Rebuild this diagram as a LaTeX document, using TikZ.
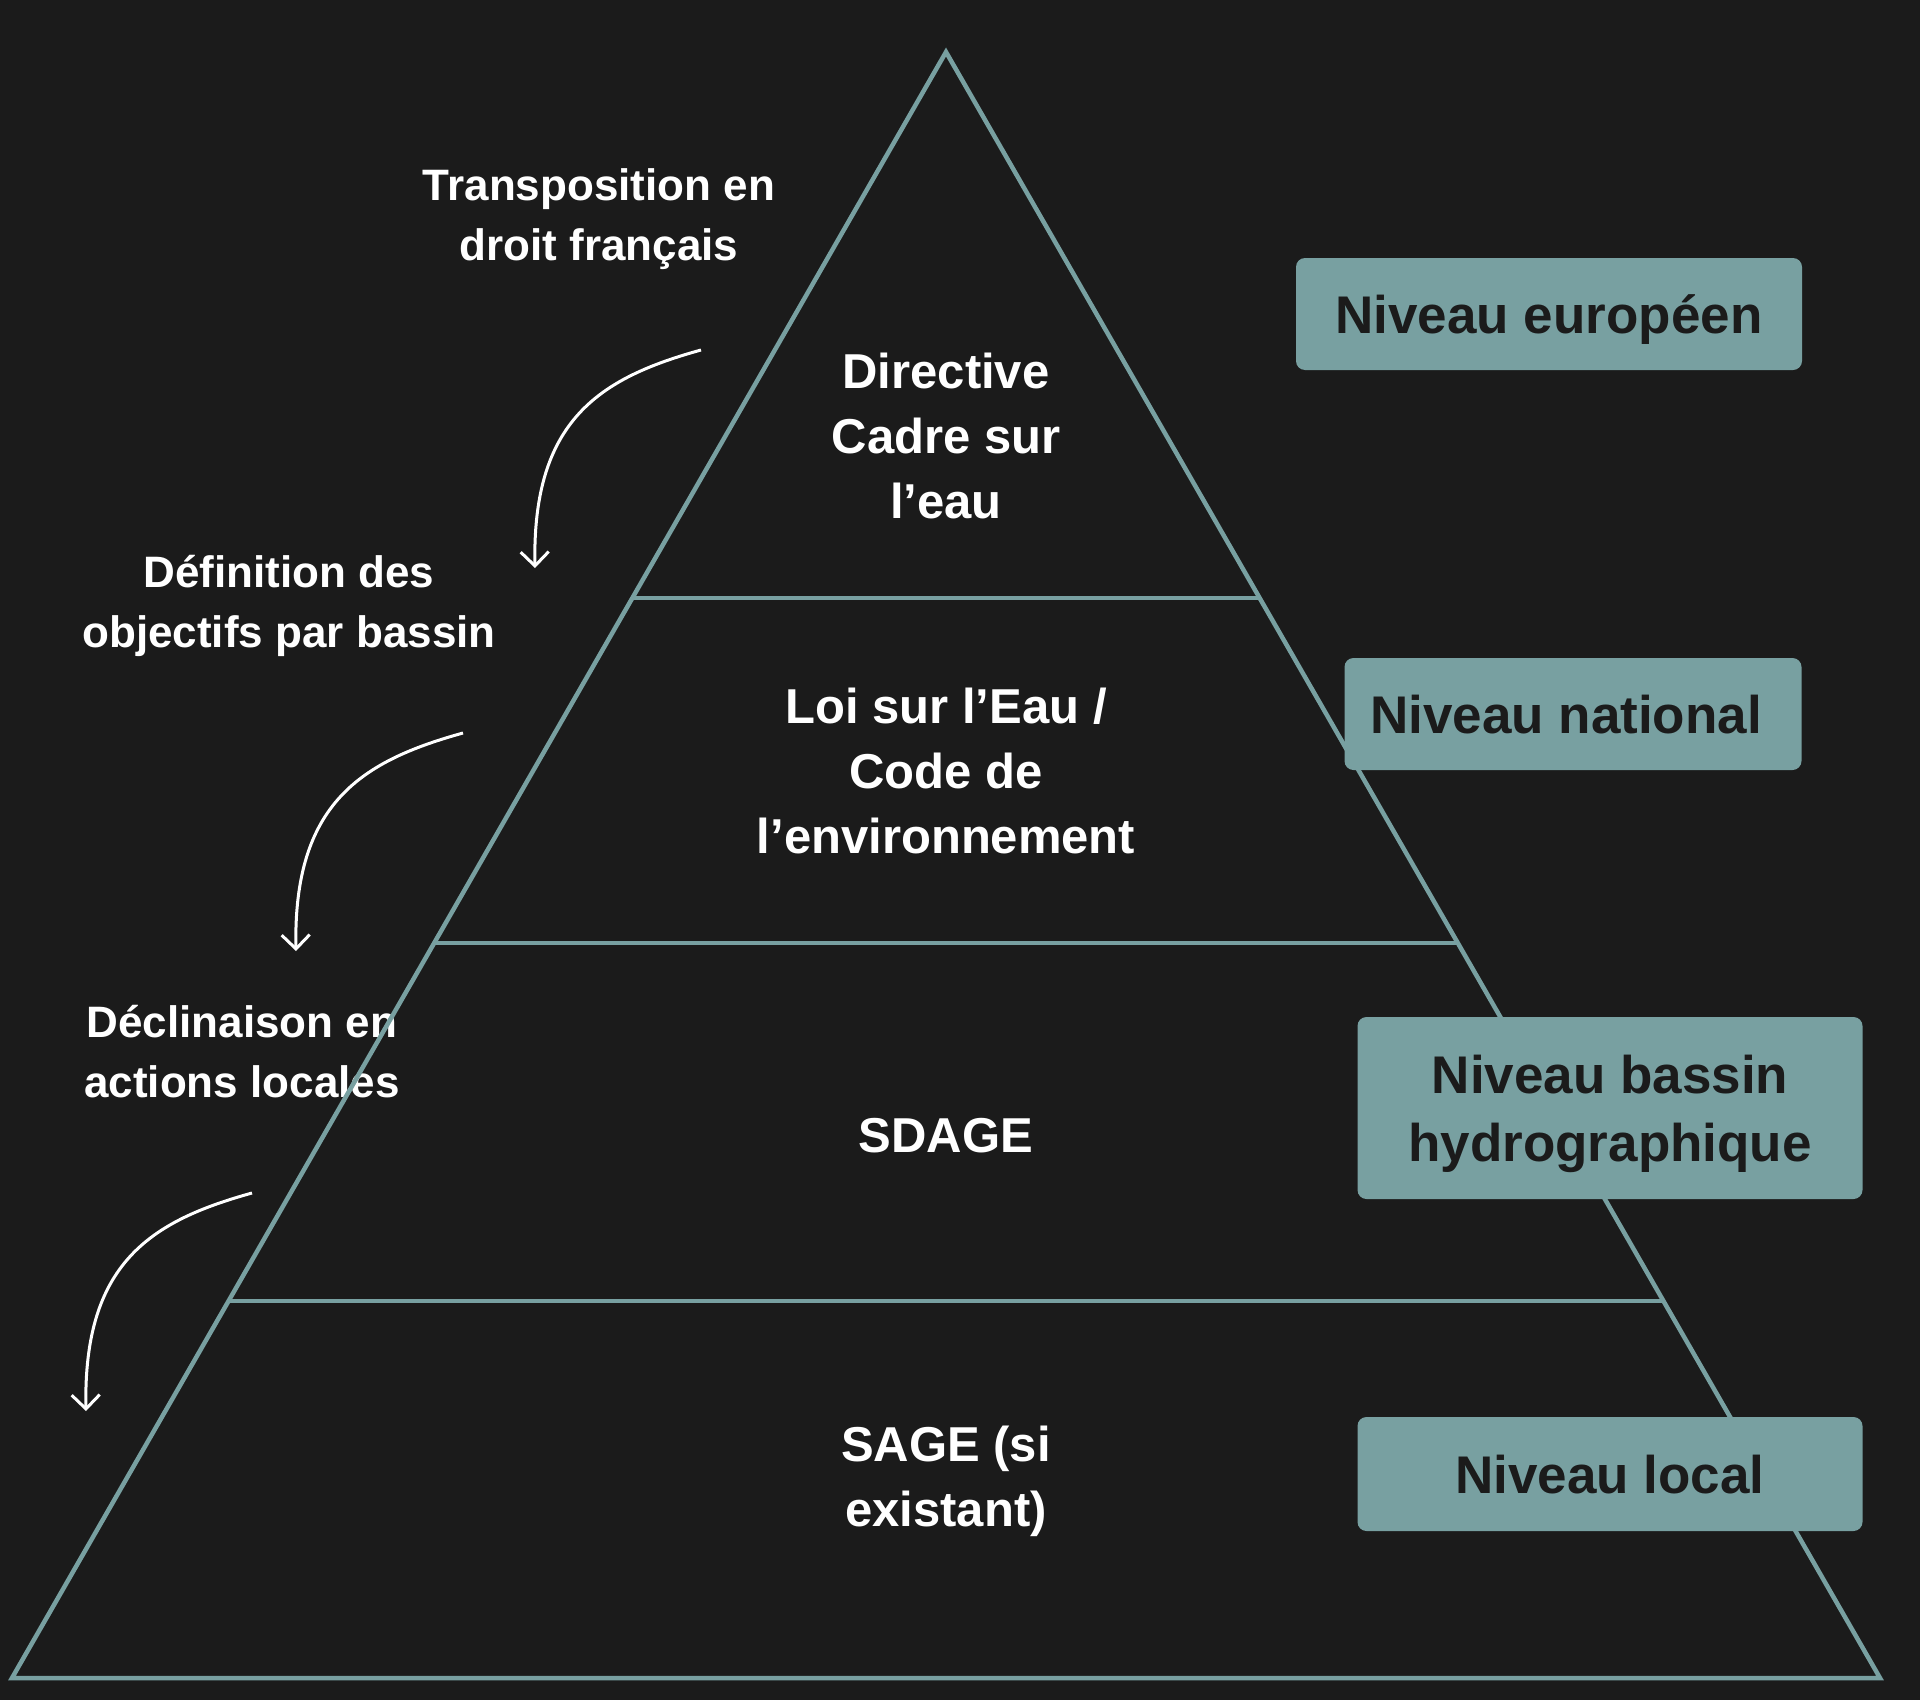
\documentclass[tikz,border=0pt]{standalone}
\usepackage{fontspec}
\setmainfont{Liberation Sans}
\usetikzlibrary{arrows.meta,calc}

\definecolor{fond}{RGB}{27,27,27}
\definecolor{sarcelle}{RGB}{120,160,161}

\begin{document}
\begin{tikzpicture}[x=1pt,y=-1pt,
    niveau/.style={fill=sarcelle, rounded corners=9pt, text=fond, inner sep=0pt, text depth=0pt,
        font=\fontsize{53}{68}\selectfont\bfseries, align=center},
    etage/.style={text=white, text depth=0pt, font=\fontsize{49}{65}\selectfont\bfseries, align=center},
    etape/.style={text=white, text depth=0pt, font=\fontsize{44}{60}\selectfont\bfseries, align=center},
    fleche/.style={white, line width=3pt, -{Straight Barb[length=14pt,width=28pt]}},
    bord/.style={sarcelle, line width=4.5pt}]
    % fond
    \fill [fond] (0,0) rectangle (1920,1700);
    \useasboundingbox (0,0) rectangle (1920,1700);

    % etapes a gauche
    \node [etape] (transpo) at (599,215) {Transposition en\\droit français};
    \node [etape] (defin) at (289,601) {Définition des\\objectifs par bassin};
    \node [etape] (declin) at (242,1051) {Déclinaison en\\actions locales};

    \coordinate (d1) at (701,350);
    \coordinate (a1) at (535,568);
    \coordinate (d2) at (463,733);
    \coordinate (a2) at (296,951);
    \coordinate (d3) at (252,1193);
    \coordinate (a3) at (86,1411);
    \draw [fleche] (d1) .. controls +(-101,28) and +(-3,-148) .. (a1);
    \draw [fleche] (d2) .. controls +(-101,28) and +(-3,-148) .. (a2);
    \draw [fleche] (d3) .. controls +(-101,28) and +(-3,-148) .. (a3);

    % pyramide
    \coordinate (sommet) at (946,52);
    \coordinate (bg) at (12,1678);
    \coordinate (bd) at (1880,1678);
    \draw [bord] (sommet) -- (bg) -- (bd) -- cycle;
    \foreach \t in {0.3358,0.548,0.7681}
        \draw [bord] ($(sommet)!\t!(bg)$) -- ($(sommet)!\t!(bd)$);

    \node [etage] (dce) at (946,436) {Directive\\Cadre sur\\l’eau};
    \node [etage] (loi) at (946,771) {Loi sur l’Eau /\\Code de\\l’environnement};
    \node [etage] (sdage) at (946,1135) {SDAGE};
    \node [etage] (sage) at (946,1476) {SAGE (si\\existant)};

    % niveaux
    \node [niveau, minimum width=506, minimum height=112] (europe) at (1549,314) {Niveau européen};
    \node [niveau, minimum width=457, minimum height=112] (nation) at (1573,714) {Niveau national\hspace{14pt}};
    \node [niveau, minimum width=505, minimum height=182] (bassin) at (1610,1108) {Niveau bassin\\hydrographique};
    \node [niveau, minimum width=505, minimum height=114] (local) at (1610,1474) {Niveau local};
\end{tikzpicture}
\end{document}
